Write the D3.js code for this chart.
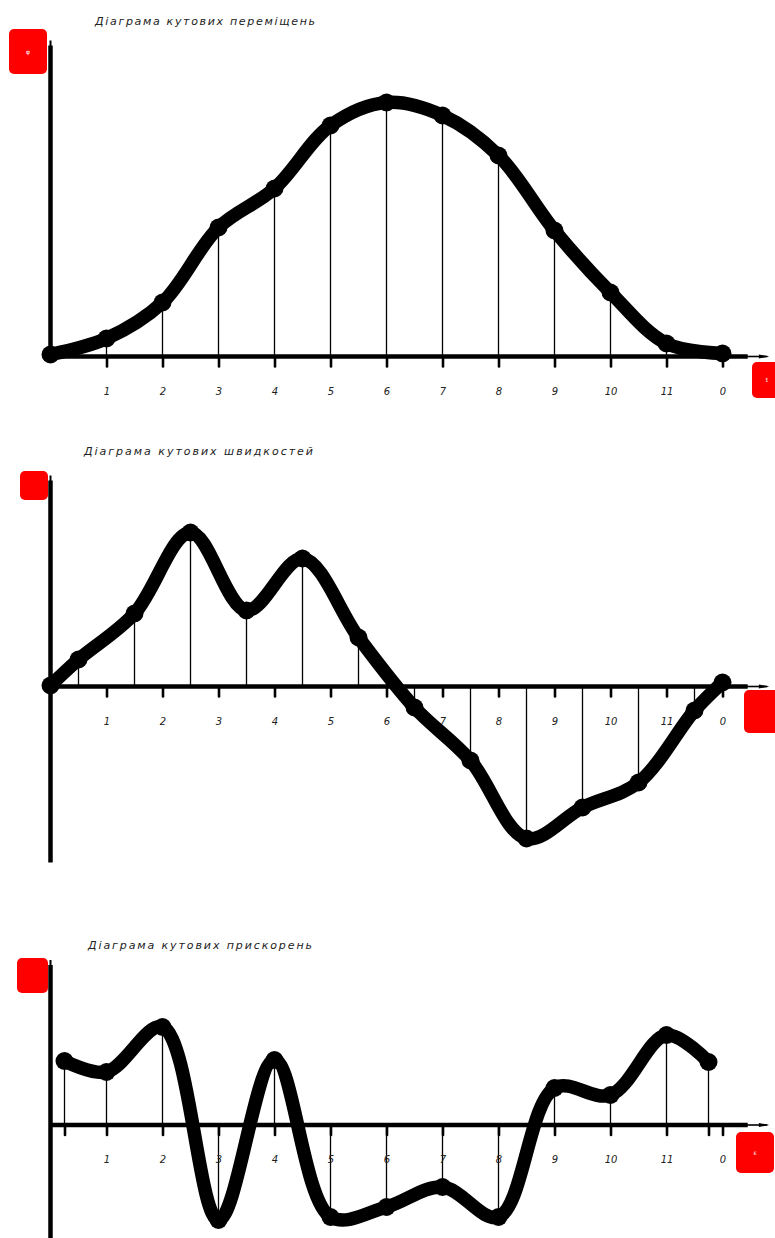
<!DOCTYPE html>
<html>
<head>
<meta charset="utf-8">
<script src="https://cdn.jsdelivr.net/npm/d3@7"></script>
<style>
  body { margin: 0; background: #fff; }
  svg { display: block; }
  .lbl { font-family: "DejaVu Sans", sans-serif; font-style: italic; font-size: 10px; fill: #222; }
  .ttl { font-family: "DejaVu Sans", sans-serif; font-style: italic; font-size: 11px; fill: #222; }
</style>
</head>
<body>
<div id="wrapper"></div>
<script>
// tick labels along every x axis (position 12 is marked "0")
const tickPos = [1, 2, 3, 4, 5, 6, 7, 8, 9, 10, 11, 12]
const tickLabels = ['1', '2', '3', '4', '5', '6', '7', '8', '9', '10', '11', '0']

// angular displacement
const dispX = [0, 1, 2, 3, 4, 5, 6, 7, 8, 9, 10, 11, 12]
const dispY = [2, 18, 54, 129, 168, 231, 254, 241, 201, 126, 64, 13, 3]

// angular velocity (midpoints)
const velX = [0, 0.5, 1.5, 2.5, 3.5, 4.5, 5.5, 6.5, 7.5, 8.5, 9.5, 10.5, 11.5, 12]
const velY = [1, 27, 73, 154, 76, 128, 49, -21, -74, -152, -121, -96, -24, 4]

// angular acceleration
const accX = [0.25, 1, 2, 3, 4, 5, 6, 7, 8, 9, 10, 11, 11.75]
const accY = [64, 53, 98, -95, 65, -92, -82, -62, -92, 37, 30, 90, 63]
const accTicks = [0.25, 1, 2, 3, 4, 5, 6, 7, 8, 9, 10, 11, 11.75, 12]

const titles = [
    'Діаграма кутових переміщень',
    'Діаграма кутових  швидкостей',
    'Діаграма кутових  прискорень'
]

let dimensions = {
    width: 775,
    height: 1238,
    originX: 50.5,
    step: 56
}

const svg = d3.select('#wrapper').append('svg')
    .attr('width', dimensions.width)
    .attr('height', dimensions.height)

function drawDiagram(opt) {
    const g = svg.append('g')

    const xScale = d3.scaleLinear()
        .domain([0, 12.8])
        .range([dimensions.originX, dimensions.originX + dimensions.step * 12.8])
    const yScale = d3.scaleLinear()
        .domain(opt.yDomain)
        .range(opt.yRange)

    const y0 = yScale(0)

    // title
    g.append('text')
        .attr('class', 'ttl')
        .attr('x', opt.title.x)
        .attr('y', opt.title.y)
        .attr('textLength', opt.title.w)
        .attr('lengthAdjust', 'spacing')
        .text(opt.title.text)

    // ordinates
    g.selectAll('.ord')
        .data(opt.xs)
        .enter()
        .append('line')
        .attr('x1', d => xScale(d))
        .attr('x2', d => xScale(d))
        .attr('y1', y0)
        .attr('y2', (d, i) => yScale(opt.ys[i]))
        .attr('stroke', '#000')
        .attr('stroke-width', 1.3)

    // x axis with pin ticks
    const xAxis = d3.axisBottom(xScale)
        .tickValues(opt.ticks)
        .tickSize(10)
        .tickSizeOuter(0)
        .tickPadding(21)
        .tickFormat(d => {
            const k = tickPos.indexOf(d)
            return k >= 0 ? tickLabels[k] : ''
        })
    const ax = g.append('g')
        .attr('transform', `translate(0, ${y0})`)
        .call(xAxis)
    ax.select('.domain').remove()
    ax.selectAll('.tick line')
        .attr('stroke', '#000')
        .attr('stroke-width', 2.6)
        .attr('stroke-linecap', 'round')
    ax.selectAll('.tick text')
        .attr('class', 'lbl')
        .attr('fill', null)
    ax.attr('font-family', null).attr('font-size', null)

    // axis lines
    g.append('line')
        .attr('x1', xScale(0)).attr('x2', xScale(12.45))
        .attr('y1', y0).attr('y2', y0)
        .attr('stroke', '#000').attr('stroke-width', 4.5)
    g.append('line')
        .attr('x1', xScale(12.4)).attr('x2', xScale(12.8))
        .attr('y1', y0).attr('y2', y0)
        .attr('stroke', '#000').attr('stroke-width', 1.6)
    g.append('path')
        .attr('d', `M${xScale(12.8) + 2},${y0} L${xScale(12.65)},${y0 - 2} L${xScale(12.65)},${y0 + 2} Z`)
        .attr('fill', '#000')
    g.append('line')
        .attr('x1', xScale(0)).attr('x2', xScale(0))
        .attr('y1', yScale(opt.yDomain[0])).attr('y2', yScale(opt.yDomain[1]) + 5)
        .attr('stroke', '#000').attr('stroke-width', 4.5)
    g.append('line')
        .attr('x1', xScale(0)).attr('x2', xScale(0))
        .attr('y1', yScale(opt.yDomain[1]) + 6).attr('y2', yScale(opt.yDomain[1]))
        .attr('stroke', '#000').attr('stroke-width', 2)

    // red markers
    opt.boxes.forEach(b => {
        g.append('rect')
            .attr('x', b.x).attr('y', b.y)
            .attr('width', b.w).attr('height', b.h)
            .attr('rx', 5)
            .attr('fill', '#ff0000')
        if (b.t) {
            g.append('text')
                .attr('x', b.x + b.w / 2).attr('y', b.y + b.h / 2 + 2)
                .attr('text-anchor', 'middle')
                .attr('font-family', 'DejaVu Sans')
                .attr('font-size', 6)
                .attr('fill', '#fff')
                .text(b.t)
        }
    })

    // curve
    const pts = opt.xs.map((d, i) => [d, opt.ys[i]])
    const line = d3.line()
        .x(d => xScale(d[0]))
        .y(d => yScale(d[1]))
        .curve(d3.curveCatmullRom.alpha(0.5))
    g.append('path')
        .datum(pts)
        .attr('d', line)
        .attr('fill', 'none')
        .attr('stroke', '#000')
        .attr('stroke-width', 13.5)
        .attr('stroke-linejoin', 'round')
        .attr('stroke-linecap', 'round')

    g.selectAll('.pt')
        .data(pts)
        .enter()
        .append('circle')
        .attr('cx', d => xScale(d[0]))
        .attr('cy', d => yScale(d[1]))
        .attr('r', 9)
        .attr('fill', '#000')
}

drawDiagram({
    title: { text: titles[0], x: 95, y: 25, w: 220 },
    xs: dispX, ys: dispY, ticks: tickPos,
    yDomain: [-2, 316], yRange: [358.5, 40.5],
    boxes: [
        { x: 9, y: 29, w: 38, h: 45, t: 'φ' },
        { x: 752, y: 362, w: 30, h: 36, t: 't' }
    ]
})

drawDiagram({
    title: { text: titles[1], x: 84, y: 455, w: 229 },
    xs: velX, ys: velY, ticks: tickPos,
    yDomain: [-176, 211], yRange: [862.5, 475.5],
    boxes: [
        { x: 20, y: 471, w: 28, h: 29 },
        { x: 744, y: 690, w: 40, h: 43 }
    ]
})

drawDiagram({
    title: { text: titles[2], x: 88, y: 949, w: 224 },
    xs: accX, ys: accY, ticks: accTicks,
    yDomain: [-113, 165], yRange: [1238, 960],
    boxes: [
        { x: 17, y: 958, w: 31, h: 35 },
        { x: 736, y: 1132, w: 38, h: 41, t: 'ε' }
    ]
})
</script>
</body>
</html>
